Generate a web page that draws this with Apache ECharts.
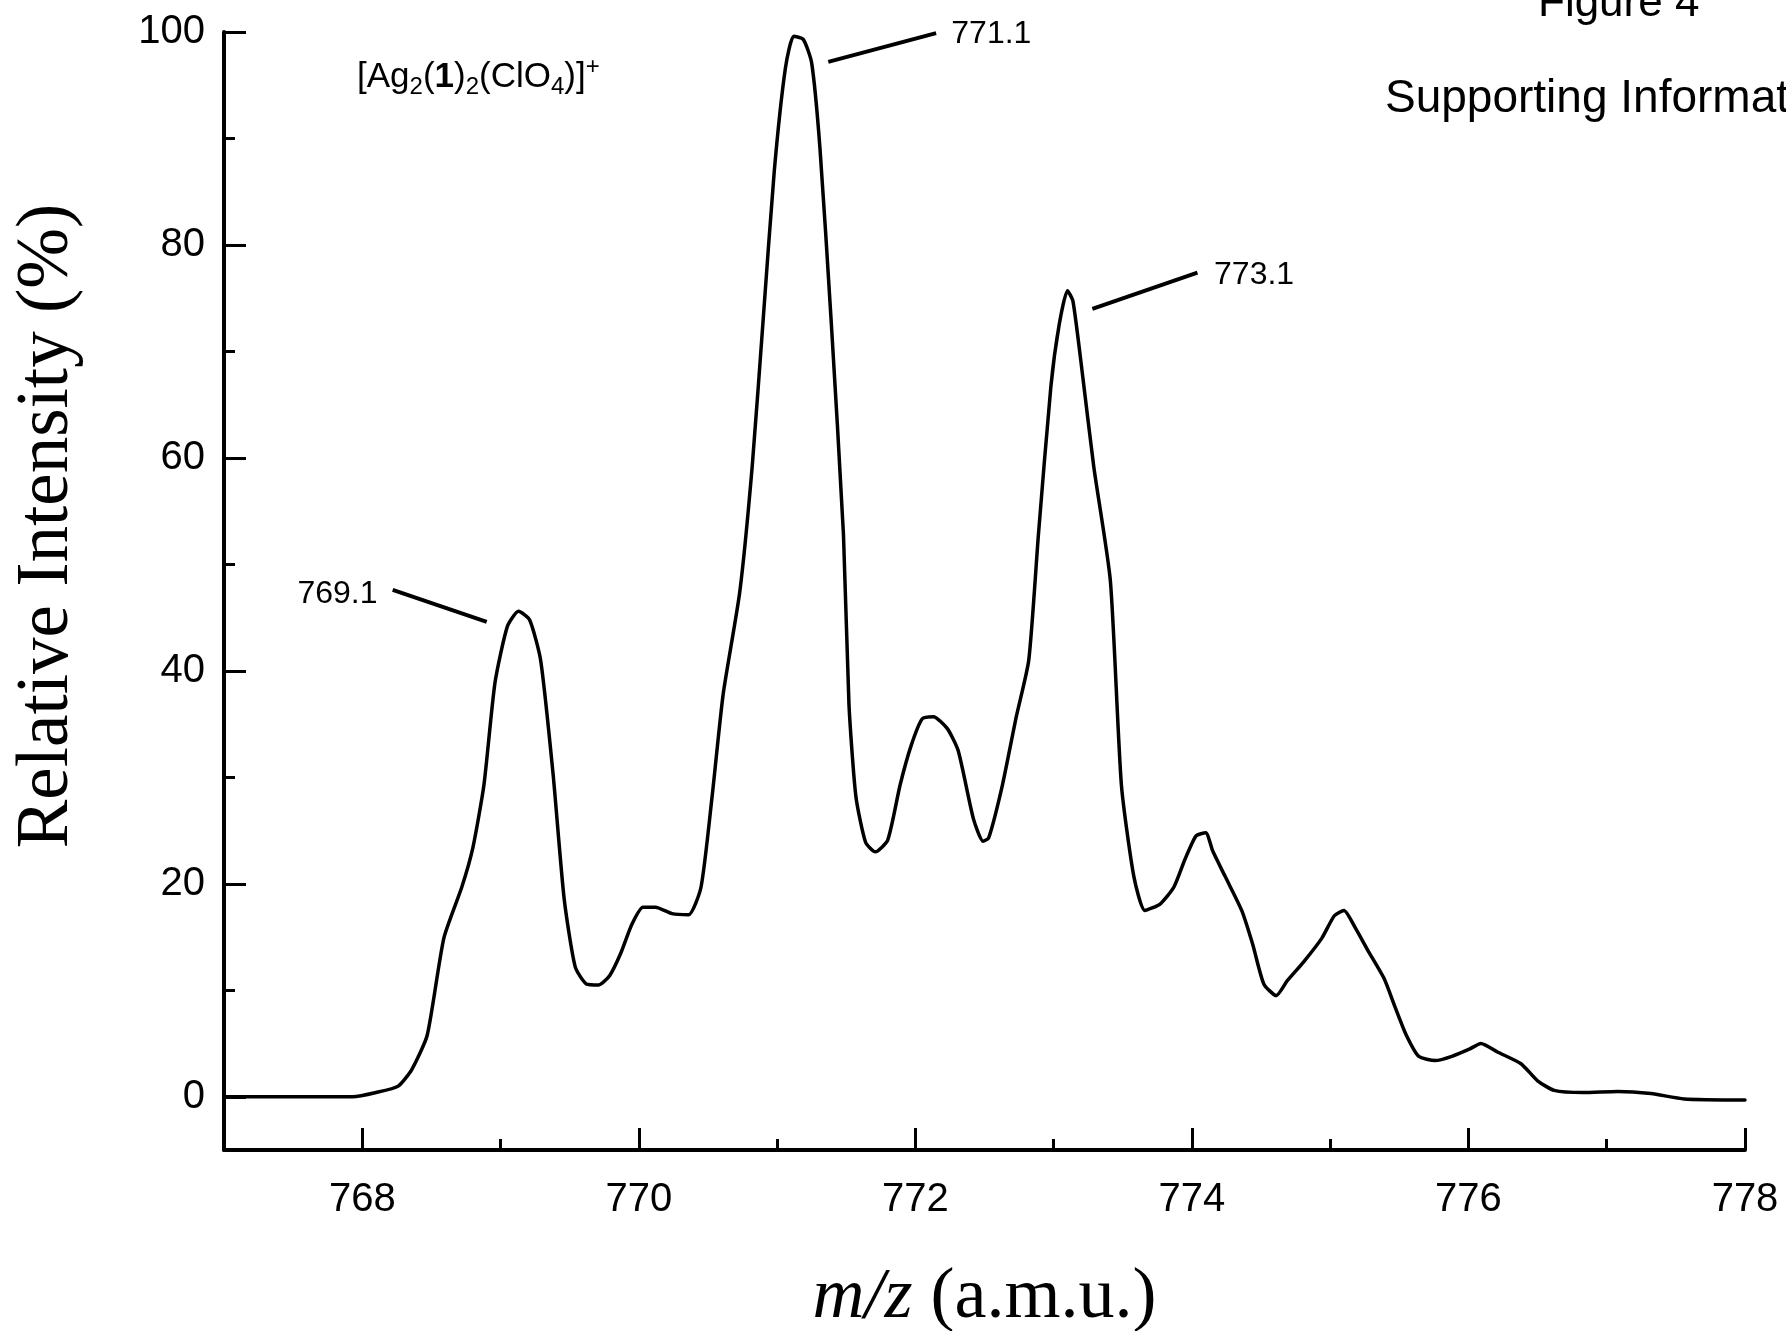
<!DOCTYPE html>
<html><head><meta charset="utf-8">
<script src="https://cdn.jsdelivr.net/npm/echarts@6/dist/echarts.min.js"></script>
<style>html,body{margin:0;padding:0;background:#fff}#c{width:1786px;height:1331px}</style>
</head><body><div id="c"></div>
<script>
// ---- data ----
const mz = [767.0,767.93,768.1,768.26,768.36,768.47,768.59,768.72,768.8,768.88,768.96,769.05,769.13,769.21,769.29,769.38,769.46,769.54,769.62,769.71,769.79,769.87,769.95,770.03,770.12,770.24,770.36,770.45,770.53,770.61,770.73,770.82,770.9,770.98,771.06,771.12,771.19,771.25,771.31,771.39,771.48,771.52,771.57,771.64,771.71,771.8,771.89,771.97,772.05,772.13,772.23,772.31,772.42,772.49,772.53,772.63,772.73,772.82,772.89,772.98,773.04,773.1,773.14,773.21,773.29,773.41,773.49,773.58,773.66,773.77,773.87,773.95,774.03,774.1,774.15,774.24,774.36,774.44,774.52,774.61,774.69,774.81,774.94,775.03,775.1,775.18,775.27,775.39,775.47,775.55,775.64,775.76,775.88,776.01,776.09,776.21,776.38,776.5,776.62,776.83,777.08,777.32,777.56,778.0];
const intensity = [0,0,0.4,1.0,2.6,5.8,14.9,19.7,23.4,29.3,38.9,44.2,45.6,44.8,41.0,30.3,18.6,12.2,10.6,10.5,11.4,13.5,16.2,17.8,17.8,17.2,17.1,19.7,28.2,37.8,47.4,59.2,73.1,87.0,96.6,99.6,99.3,97.1,89.1,73.1,52.8,36.8,28.2,23.9,23.0,24.1,29.3,33.0,35.5,35.7,34.6,32.5,26.1,24.0,24.3,29.3,35.7,41.0,52.8,66.7,72.5,75.7,74.7,67.7,59.2,48.5,29.3,20.7,17.5,18.1,19.7,22.3,24.5,24.8,23.1,20.7,17.5,14.3,10.6,9.5,10.9,12.7,14.9,17.0,17.5,15.9,13.8,11.1,8.4,5.8,3.8,3.4,3.8,4.5,5.0,4.2,3.1,1.5,0.6,0.4,0.5,0.3,-0.2,-0.3];
const xMajorTicks = [768,770,772,774,776,778];
const xMinorTicks = [769,771,773,775,777];
const yMajorTicks = [0,20,40,60,80,100];
const yMinorTicks = [10,30,50,70,90];
const peakLabels = ['769.1','771.1','773.1'];
const peakLabelAnchors = [[768.11,47.2],[772.26,99.8],[774.16,77.2]];
const peakLabelSides = ['left','right','right'];
const leaderStarts = [[768.22,47.6],[771.37,97.2],[773.28,74.0]];
const leaderEnds = [[768.90,44.6],[772.15,99.9],[774.04,77.4]];
const xAxisName = '{i|m/z} (a.m.u.)';
const yAxisName = 'Relative Intensity (%)';

// ---- chart ----
const SANS = "'Liberation Sans', Arial, Helvetica, sans-serif";
const SERIF = "'Liberation Serif', 'Times New Roman', serif";
const chart = echarts.init(document.getElementById('c'), null, {renderer: 'canvas'});

const minorAxis = (ticks) => ({
  type: 'value', min: 0, max: 0,
  axisLine: {show: false, onZero: false},
  axisTick: {show: true, inside: true, length: 11, customValues: ticks, lineStyle: {color: '#000', width: 3}},
  axisLabel: {show: false},
  splitLine: {show: false}
});

const xMinor = Object.assign(minorAxis(xMinorTicks), {min: 767, max: 778, position: 'bottom'});
const yMinor = Object.assign(minorAxis(yMinorTicks), {min: -5, max: 100, position: 'left'});

const option = {
  backgroundColor: '#fff',
  animation: false,
  grid: {left: 224, right: 41, top: 32, bottom: 181, containLabel: false, outerBoundsMode: 'none'},
  xAxis: [{
    type: 'value', min: 767, max: 778, position: 'bottom',
    axisLine: {show: true, onZero: false, lineStyle: {color: '#000', width: 4}},
    axisTick: {show: true, inside: true, length: 22, customValues: xMajorTicks, lineStyle: {color: '#000', width: 3}},
    axisLabel: {customValues: xMajorTicks, margin: 30, fontSize: 40, color: '#000', fontFamily: SANS},
    splitLine: {show: false},
    name: xAxisName, nameLocation: 'middle', nameGap: 112,
    nameTextStyle: {fontFamily: SERIF, fontSize: 72, color: '#000',
      rich: {i: {fontFamily: SERIF, fontSize: 72, fontStyle: 'italic', color: '#000'}}}
  }, xMinor],
  yAxis: [{
    type: 'value', min: -5, max: 100, position: 'left',
    axisLine: {show: true, onZero: false, lineStyle: {color: '#000', width: 4}},
    axisTick: {show: true, inside: true, length: 22, customValues: yMajorTicks, lineStyle: {color: '#000', width: 3}},
    axisLabel: {customValues: yMajorTicks, margin: 19, fontSize: 40, color: '#000', fontFamily: SANS},
    splitLine: {show: false},
    name: yAxisName, nameLocation: 'middle', nameGap: 140, nameRotate: 90,
    nameTextStyle: {fontFamily: SERIF, fontSize: 73, color: '#000', padding: [0, 0, 0, 130]}
  }, yMinor],
  series: [{
    type: 'line', xAxisIndex: 0, yAxisIndex: 0,
    data: mz.map((x, i) => [x, intensity[i]]),
    showSymbol: false, smooth: 0.2,
    lineStyle: {color: '#000', width: 3.5, join: 'round', cap: 'round'},
    clip: false,
    markLine: {
      silent: true, symbol: ['none', 'none'],
      label: {show: false},
      lineStyle: {color: '#000', width: 4, type: 'solid', opacity: 1},
      data: leaderStarts.map((s, i) => [{coord: s}, {coord: leaderEnds[i]}])
    }
  }, {
    type: 'scatter', xAxisIndex: 0, yAxisIndex: 0,
    symbolSize: 0, silent: true, clip: false,
    itemStyle: {opacity: 1, color: '#000'},
    data: peakLabelAnchors.map((p, i) => ({
      value: p,
      label: {show: true, formatter: peakLabels[i], position: peakLabelSides[i], distance: 0,
        fontSize: 32, fontFamily: SANS, color: '#000', opacity: 1}
    }))
  }],
  graphic: [
    {type: 'text', left: 357, top: 55, style: {
      text: '[Ag{sub|2}({b|1}){sub|2}(ClO{sub|4})]{sup|+}',
      font: '35px ' + SANS, fill: '#000',
      rich: {
        sub: {fontSize: 24, fontFamily: SANS, verticalAlign: 'bottom', lineHeight: 22, fill: '#000'},
        sup: {fontSize: 24, fontFamily: SANS, verticalAlign: 'top', lineHeight: 22, fill: '#000'},
        b: {fontSize: 35, fontFamily: SANS, fontWeight: 'bold', lineHeight: 44, fill: '#000'}
      }
    }},
    {type: 'text', x: 1538, y: 4, style: {text: 'Figure 4', font: '44px ' + SANS, fill: '#000', verticalAlign: 'middle'}},
    {type: 'text', x: 1385, y: 99, style: {text: 'Supporting Information', font: '46px ' + SANS, fill: '#000', verticalAlign: 'middle'}}
  ]
};
chart.setOption(option);
</script>
</body></html>
